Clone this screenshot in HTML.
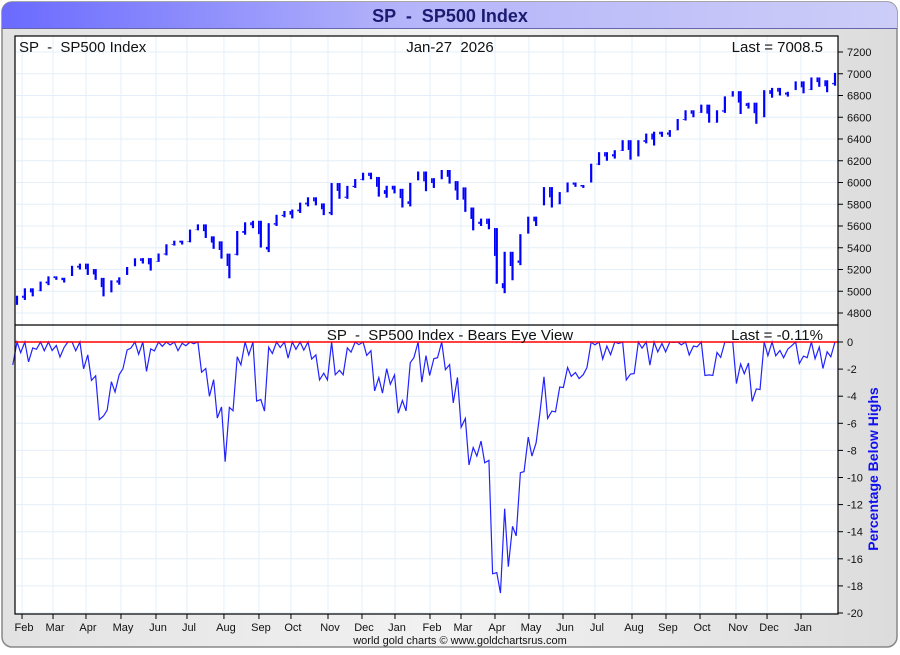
<!DOCTYPE html>
<html><head><meta charset="utf-8"><style>
html,body{margin:0;padding:0;background:#fff;}
body{width:900px;height:650px;overflow:hidden;font-family:"Liberation Sans",sans-serif;}
svg text{white-space:pre;}
</style></head><body>
<svg id="chart" width="900" height="650" xmlns="http://www.w3.org/2000/svg" font-family="Liberation Sans, sans-serif">
<defs>
<linearGradient id="tg" x1="0" x2="1" y1="0" y2="0"><stop offset="0" stop-color="#6a6aff"/><stop offset="0.45" stop-color="#b4b4fa"/><stop offset="1" stop-color="#cdcdf8"/></linearGradient>
<linearGradient id="fg" x1="0" x2="1" y1="0" y2="0"><stop offset="0" stop-color="#e2e2e2"/><stop offset="0.5" stop-color="#f2f2f2"/><stop offset="1" stop-color="#dcdcdc"/></linearGradient>
</defs>
<rect x="2" y="2" width="895" height="645" rx="10" fill="url(#fg)" stroke="#888" stroke-width="1.5"/>
<path d="M2,28 V12 A10,10 0 0 1 12,2 H887 A10,10 0 0 1 897,12 V28 Z" fill="url(#tg)"/>
<line x1="2" y1="28.5" x2="897" y2="28.5" stroke="#6666aa" stroke-width="1"/>
<text x="450" y="22" text-anchor="middle" font-size="18" font-weight="bold" fill="#1a1a70">SP  -  SP500 Index</text>
<rect x="15" y="36" width="823" height="578" fill="#fff"/>
<g id="grid"></g>
<g id="marks"></g>
<rect x="15" y="36" width="823" height="578" fill="none" stroke="#000" stroke-width="1.2"/>
<line x1="15" y1="325" x2="838" y2="325" stroke="#000" stroke-width="1.2"/>
<text x="19" y="52" font-size="15" fill="#111">SP  -  SP500 Index</text>
<text x="450" y="52" font-size="15" fill="#111" text-anchor="middle">Jan-27  2026</text>
<text x="823" y="52" font-size="15" fill="#111" text-anchor="end">Last = 7008.5</text>
<text x="450" y="340" font-size="15" fill="#111" text-anchor="middle">SP  -  SP500 Index - Bears Eye View</text>
<text x="823" y="340" font-size="15" fill="#111" text-anchor="end">Last = -0.11%</text>
<text transform="translate(878,469) rotate(-90)" font-size="14" font-weight="bold" fill="#1010ee" text-anchor="middle">Percentage Below Highs</text>
<text x="460" y="644" font-size="11" fill="#111" text-anchor="middle">world gold charts © www.goldchartsrus.com</text>
<g id="axes"></g>
</svg>
<script>
const closes=[4959,5027,5005,5089,5137,5124,5117,5234,5254,5204,5123,4967,5100,5128,5223,5303,5305,5278,5347,5432,5465,5460,5567,5615,5505,5459,5346,5344,5554,5634,5648,5408,5626,5703,5738,5751,5815,5864,5808,5729,5995,5870,5969,6032,6090,6051,5930,5970,
5942,5827,5997,6101,6040,6026,6115,6013,5955,5770,5639,5668,5581,5074,5363,5283,5525,5686,5660,5958,5803,5912,6000,5977,5968,6173,6279,6260,6297,6389,6238,6389,6450,6467,6460,6482,6584,6664,6644,6716,6553,6664,6792,6840,6729,6734,6603,6849,6870,6827,6834,6930,
6858,6966,6940,6916,7008];
const lows=[4875,4920,4953,5000,5056,5105,5080,5140,5200,5150,5105,4953,4990,5060,5150,5230,5255,5190,5270,5330,5420,5430,5450,5560,5490,5390,5300,5119,5330,5520,5580,5402,5360,5600,5680,5670,5720,5780,5790,5700,5700,5850,5850,5950,6020,6030,5870,5860,
5900,5770,5780,6020,5920,5950,6030,5990,5840,5730,5560,5600,5570,5069,4982,5101,5240,5530,5600,5790,5770,5800,5910,5960,5950,6000,6160,6200,6220,6290,6210,6240,6360,6340,6420,6420,6480,6570,6600,6640,6550,6550,6640,6790,6630,6680,6540,6600,6780,6800,6790,6850,
6820,6850,6880,6830,6890];
const priceTicks=[4800,5000,5200,5400,5600,5800,6000,6200,6400,6600,6800,7000,7200];
const pctTicks=[0,-2,-4,-6,-8,-10,-12,-14,-16,-18,-20];
const monthLabels=["Feb","Mar","Apr","May","Jun","Jul","Aug","Sep","Oct","Nov","Dec","Jan","Feb","Mar","Apr","May","Jun","Jul","Aug","Sep","Oct","Nov","Dec","Jan"];
const monthWeekIndex=[0.64,4.58,8.77,13.22,17.67,21.61,26.31,30.76,34.83,39.54,43.86,48.06,52.51,56.45,60.77,65.09,69.42,73.48,78.19,82.51,86.84,91.41,95.36,99.68];

const NS="http://www.w3.org/2000/svg";
const n=closes.length;
const xS=i=>17+i*(835-17)/(n-1);
const yP=v=>313-(v-4800)*261/2400;
const yD=v=>342-v*271/20;
function mk(tag,attrs,parent){const e=document.createElementNS(NS,tag);for(const k in attrs)e.setAttribute(k,attrs[k]);parent.appendChild(e);return e;}
const grid=document.getElementById('grid'),marks=document.getElementById('marks'),axes=document.getElementById('axes');
monthWeekIndex.forEach((w,k)=>{
  const x=xS(w);
  const g=mk('line',{x1:x,y1:36,x2:x,y2:614,stroke:'#e4eff9','stroke-width':1},grid);
  
  
  const t=mk('line',{x1:x,y1:614,x2:x,y2:619,stroke:'#000'},axes);
  
  
  const l=mk('text',{x:x+2,y:631,'font-size':11,'text-anchor':'middle',fill:'#111'},axes);
  l.textContent=monthLabels[k];
  
  
});
priceTicks.forEach(v=>{
  const y=yP(v);
  const g=mk('line',{x1:15,y1:y,x2:838,y2:y,stroke:'#e4eff9'},grid);
  
  
  const t=mk('line',{x1:838,y1:y,x2:843,y2:y,stroke:'#000'},axes);
  
  
  const l=mk('text',{x:847,y:y+4,'font-size':11,fill:'#111'},axes);
  l.textContent=v;
  
  
});
pctTicks.forEach(v=>{
  const y=yD(v);
  const g=mk('line',{x1:15,y1:y,x2:838,y2:y,stroke:'#e4eff9'},grid);
  
  
  const t=mk('line',{x1:838,y1:y,x2:843,y2:y,stroke:'#000'},axes);
  
  
  const l=mk('text',{x:847,y:y+4,'font-size':11,fill:'#111'},axes);
  l.textContent=v;
  
  
});
for(let i=0;i<n;i++){
  const prev=i>0?closes[i-1]:closes[i];
  const hi=Math.max(prev,closes[i]);
  const lo=Math.min(lows[i],closes[i]);
  const x=xS(i);
  const b=mk('line',{x1:x,y1:yP(hi),x2:x,y2:yP(lo),stroke:'#0000ff','stroke-width':2.2},marks);
  
  
  if(i>0){
    const b2=mk('line',{x1:x-2,y1:yP(prev),x2:x-2,y2:yP((prev+Math.min(lows[i],prev))/2),stroke:'#0000ff','stroke-width':1.6},marks);
    
    
  }
}
let mx=closes[0],pts=[];
for(let i=0;i<n;i++){
  const x=xS(i);
  const ddLow=Math.min(0,(lows[i]/mx-1)*100);
  pts.push((x-4.2)+','+yD(ddLow));
  mx=Math.max(mx,closes[i]);
  const dd=(closes[i]/mx-1)*100;
  pts.push(x+','+yD(dd));
}
const pl=mk('polyline',{points:pts.join(' '),fill:'none',stroke:'#2222ff','stroke-width':1.2},marks);


const zl=mk('line',{x1:15,y1:yD(0),x2:838,y2:yD(0),stroke:'#ff0000','stroke-width':1.4},marks);


</script>
</body></html>
